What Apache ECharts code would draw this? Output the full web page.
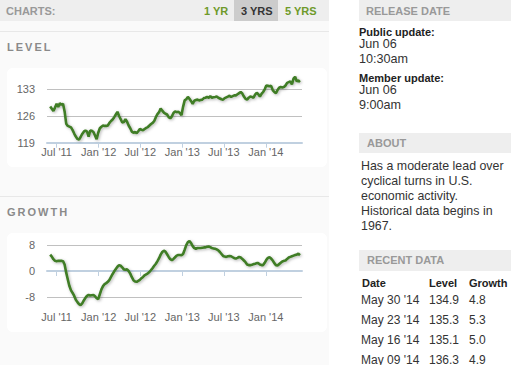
<!DOCTYPE html>
<html><head><meta charset="utf-8">
<script src="https://cdn.jsdelivr.net/npm/echarts@6/dist/echarts.min.js"></script>
<style>
html,body{margin:0;padding:0}
body{width:511px;height:365px;overflow:hidden;background:#fff;font-family:"Liberation Sans",Arial,sans-serif;position:relative;color:#333}
.a{position:absolute;white-space:nowrap;line-height:1}
#left{position:absolute;left:0;top:0;width:329px;height:365px;background:#fafafa}
.bar{position:absolute;background:#eeeeee}
.hdr{font-size:11px;font-weight:bold;color:#999}
.sec{font-size:11px;font-weight:bold;color:#8a8a8a;letter-spacing:2px}
.box{position:absolute;left:7px;width:320px;height:99px;background:#fff;border-radius:6px;overflow:hidden}
.lbl{font-size:11px;font-weight:bold;color:#222}
.val{font-size:12px;color:#333}
.big{font-size:12.6px;color:#333}
.about{position:absolute;left:361px;top:159px;font-size:12.4px;line-height:15px;color:#333}
</style></head>
<body>
<div id="left"></div>
<div class="bar" style="left:0;top:0;width:329px;height:21px"></div>
<div class="bar" style="left:234px;top:0;width:44px;height:21px;background:#cccccc"></div>
<div class="a hdr" style="left:6px;top:6px">CHARTS:</div>
<div class="a hdr" style="left:204px;top:6px;color:#6f9a2a">1 YR</div>
<div class="a hdr" style="left:241px;top:6px;color:#333">3 YRS</div>
<div class="a hdr" style="left:285px;top:6px;color:#6f9a2a">5 YRS</div>
<div style="position:absolute;left:0;top:31px;width:329px;height:1px;background:#e8e8e8"></div>
<div class="a sec" style="left:7px;top:42px">LEVEL</div>
<div class="box" id="levelChart" style="top:68px"></div>
<div style="position:absolute;left:0;top:196px;width:329px;height:1px;background:#e8e8e8"></div>
<div class="a sec" style="left:7px;top:207px">GROWTH</div>
<div class="box" id="growthChart" style="top:233px"></div>

<div class="bar" style="left:359px;top:0;width:152px;height:21px"></div>
<div class="a hdr" style="left:366px;top:6px">RELEASE DATE</div>
<div class="a lbl" style="left:359px;top:27px">Public update:</div>
<div class="a big" style="left:359px;top:38px">Jun 06</div>
<div class="a big" style="left:359px;top:53px">10:30am</div>
<div class="a lbl" style="left:359px;top:73px">Member update:</div>
<div class="a big" style="left:359px;top:84px">Jun 06</div>
<div class="a big" style="left:359px;top:99px">9:00am</div>

<div class="bar" style="left:359px;top:133px;width:152px;height:20px"></div>
<div class="a hdr" style="left:367px;top:138px">ABOUT</div>
<div class="about">Has a moderate lead over<br>cyclical turns in U.S.<br>economic activity.<br>Historical data begins in<br>1967.</div>

<div class="bar" style="left:359px;top:250px;width:152px;height:21px"></div>
<div class="a hdr" style="left:367px;top:255px">RECENT DATA</div>
<div id="recent"></div>

<script>
// ---- data ----
const startDate = [2011, 5, 3]; // first weekly observation (Fri Jun 3 2011)
const levelValues = [128.5,127.9,127.3,128.2,129.2,128.4,129.3,129.0,129.2,127.2,
124.0,123.4,123.2,123.0,122.3,121.4,120.6,120.0,119.8,120.5,
121.3,121.9,122.2,121.9,120.6,122.2,122.1,121.8,120.9,119.9,
121.6,122.8,123.2,123.5,123.4,123.4,123.5,124.2,124.7,125.1,
125.7,126.4,127.1,126.0,125.2,124.3,124.4,125.2,124.5,123.5,
122.8,121.9,121.6,121.8,121.5,122.0,122.6,122.4,122.3,122.6,
122.9,123.1,123.5,123.9,124.2,124.7,125.7,126.5,127.0,128.0,
127.4,126.9,126.6,126.4,125.7,125.4,125.9,126.8,127.2,127.0,
127.1,126.8,126.2,128.4,130.1,130.4,131.0,130.5,129.9,129.2,
130.0,130.2,130.3,130.1,130.2,130.3,130.7,130.8,131.0,130.8,
131.2,130.8,130.9,131.0,131.1,130.8,130.6,130.4,130.3,130.7,
130.9,131.1,131.3,131.0,131.2,131.4,131.4,131.7,132.0,132.3,
131.9,131.1,130.5,130.3,130.8,131.1,131.0,130.8,131.6,132.1,
131.7,131.1,131.8,132.3,133.0,134.0,133.9,133.8,133.9,132.8,
132.3,132.0,132.8,133.4,133.6,133.5,133.6,134.0,134.7,134.9,
135.1,134.3,135.8,136.3,135.1,135.3,134.9];
const growthValues = [5.0,4.4,3.6,3.1,3.0,3.1,3.1,3.1,3.0,2.0,
-0.5,-2.6,-4.6,-5.9,-6.7,-7.6,-8.8,-9.5,-10.1,-10.4,
-9.9,-9.0,-8.2,-7.6,-7.3,-7.5,-7.4,-7.3,-7.7,-8.3,
-8.6,-7.1,-5.6,-4.6,-4.0,-3.7,-3.3,-2.7,-1.8,-0.9,
-0.1,0.6,1.3,1.8,1.6,1.1,0.5,0.4,0.5,0.0,
-0.8,-1.9,-2.8,-3.2,-3.3,-3.0,-2.7,-2.2,-1.8,-1.3,
-1.0,-0.7,-0.3,0.3,0.9,1.6,2.2,3.0,3.9,5.0,
5.8,6.2,5.9,5.1,4.3,3.6,3.3,3.7,4.2,4.7,
4.9,4.9,4.8,5.2,6.5,7.9,8.8,9.1,8.5,7.6,
7.0,6.8,7.0,7.0,7.0,7.1,7.2,7.2,7.4,7.5,
7.3,7.0,6.9,6.8,6.6,6.3,5.8,5.2,4.6,4.4,
4.3,4.5,4.6,4.5,4.2,3.9,3.8,4.0,4.3,4.1,
3.7,3.2,2.7,2.0,1.8,1.8,1.9,2.1,2.2,2.4,
2.4,2.0,1.8,1.8,2.5,3.4,4.0,4.2,3.8,3.2,
2.4,1.8,1.7,2.1,2.5,2.9,3.1,3.2,3.7,4.1,
4.3,4.5,4.7,4.9,5.0,5.3,4.8];
const xTickDates = ['2011-07-01','2012-01-01','2012-07-01','2013-01-01','2013-07-01','2014-01-01'];
const xTickLabels = ["Jul '11","Jan '12","Jul '12","Jan '13","Jul '13","Jan '14"];
const levelTicks = [119, 126, 133];
const growthTicks = [-8, 0, 8];
const recentDates = ["May 30 '14","May 23 '14","May 16 '14","May 09 '14"];
const recentLevel = ["134.9","135.3","135.1","136.3"];
const recentGrowth = ["4.8","5.3","5.0","4.9"];

// ---- recent data table ----
(function(){
  const r = document.getElementById('recent');
  let h = '<div class="a lbl" style="left:362px;top:278px">Date</div>'+
          '<div class="a lbl" style="left:429px;top:278px">Level</div>'+
          '<div class="a lbl" style="left:469px;top:278px">Growth</div>';
  for (let i=0;i<recentDates.length;i++){
    const t = 293.5 + i*20;
    h += '<div class="a val" style="left:361px;top:'+t+'px">'+recentDates[i]+'</div>'+
         '<div class="a val" style="left:429px;top:'+t+'px">'+recentLevel[i]+'</div>'+
         '<div class="a val" style="left:469px;top:'+t+'px">'+recentGrowth[i]+'</div>';
  }
  r.innerHTML = h;
})();

// ---- charts ----
const dates = [];
for (let i=0;i<levelValues.length;i++){
  dates.push(Date.UTC(startDate[0], startDate[1], startDate[2] + 7*i));
}
const tickTimes = xTickDates.map(d => Date.parse(d+'T00:00:00Z'));
const labelMap = {};
tickTimes.forEach((t,i)=>{ labelMap[t] = xTickLabels[i]; });

function makeChart(id, values, yMin, yMax, yTicks, top){
  const c = echarts.init(document.getElementById(id), null, {renderer:'svg'});
  c.setOption({
    animation:false,
    backgroundColor:'#fff',
    grid:{left:40, right:25, top:top, bottom:24.3, outerBoundsMode:'none', containLabel:false},
    xAxis:{
      type:'value',
      min:Date.UTC(2011,4,20), max:Date.UTC(2014,5,8),
      axisLine:{show:true, lineStyle:{color:'#C0D0E0', width:2}},
      axisTick:{show:true, customValues:tickTimes, length:5, lineStyle:{color:'#C0D0E0', width:1}},
      axisLabel:{customValues:tickTimes, formatter:v=>labelMap[v]||'', color:'#666', fontSize:11,
                 fontFamily:'"Liberation Sans",Arial,sans-serif', margin:4, hideOverlap:false,
                 showMinLabel:true, showMaxLabel:true},
      splitLine:{show:false}
    },
    yAxis:{
      type:'value', min:yMin, max:yMax,
      axisLine:{show:false}, axisTick:{show:false, customValues:yTicks},
      axisLabel:{customValues:yTicks, color:'#666', fontSize:11, margin:12,
                 fontFamily:'"Liberation Sans",Arial,sans-serif'},
      splitLine:{show:true, lineStyle:{color:'#C0C0C0', width:1}}
    },
    series:[{
      type:'line', data:dates.map((d,i)=>[d, values[i]]),
      showSymbol:false, symbol:'none',
      lineStyle:{color:'#3f7d25', width:2.6, shadowColor:'rgba(0,0,0,0.3)', shadowBlur:3, shadowOffsetX:1, shadowOffsetY:1},
      z:3
    }]
  });
  return c;
}
makeChart('levelChart', levelValues, 119, 137.2, levelTicks, 5.3);
makeChart('growthChart', growthValues, -11.2, 9.8, growthTicks, 5.9);
</script>
</body></html>
